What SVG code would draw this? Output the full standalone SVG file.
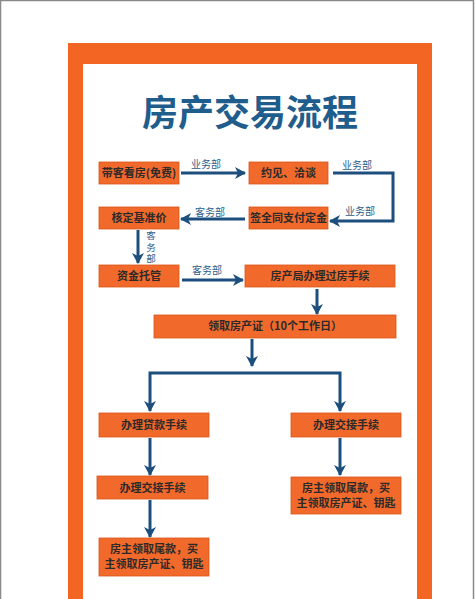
<svg xmlns="http://www.w3.org/2000/svg" width="475" height="599" viewBox="0 0 475 599">
<style>
.node rect{fill:#f1692b;stroke:#d9551a;stroke-width:0.8}
.node text{font-family:"Noto Sans CJK SC","Noto Sans",sans-serif;font-weight:bold;font-size:11px;fill:#2e2a2a;text-anchor:middle}
.conn path{fill:none;stroke:#1d4f7e;stroke-width:3;marker-end:url(#arr)}
.lbl{font-family:"Noto Sans CJK SC","Noto Sans",sans-serif;font-size:10px;fill:#2b5d8a;text-anchor:middle}
</style>
<defs>
<marker id="arr" markerUnits="userSpaceOnUse" markerWidth="14" markerHeight="14" refX="11" refY="7" orient="auto">
<path d="M1,1 L12,7 L1,13 L4,7 z" fill="#1d4f7e"/>
</marker>
</defs>
<rect x="0" y="0" width="475" height="599" fill="#ffffff"/>
<rect x="0.5" y="0.5" width="473" height="640" fill="none" stroke="#8a8a8a" stroke-width="1.5"/>
<rect x="68" y="43" width="364" height="600" fill="#f26522"/>
<rect x="83" y="64" width="334" height="600" fill="#ffffff"/>
<text x="250" y="126" font-family="Noto Sans CJK SC, sans-serif" font-weight="bold" font-size="36" fill="#1f5d8c" text-anchor="middle">房产交易流程</text>

<g class="conn">
<path d="M181,173 H245"/>
<path d="M333,173 H393 V221 H330"/>
<path d="M245,219 H181"/>
<path d="M138,230 V263"/>
<path d="M182,280 H243"/>
<path d="M317,289 V314"/>
<path d="M252,339 V366"/>
<path d="M252,373 H150 V411"/>
<path d="M252,373 H340 V411"/>
<path d="M150,438 V475"/>
<path d="M340,438 V475"/>
<path d="M150,500 V537"/>
</g>
<g id="labels">
<text class="lbl" x="206" y="168">业务部</text>
<text class="lbl" x="357" y="169">业务部</text>
<text class="lbl" x="360" y="215">业务部</text>
<text class="lbl" x="210" y="216" font-size="11">客务部</text>
<text class="lbl" x="207" y="274">客务部</text>
<text class="lbl" x="151" y="231" writing-mode="tb" style="text-anchor:start;font-size:9.5px;letter-spacing:2px">客务部</text>
</g>

<g id="n1" class="node"><rect x="99" y="162" width="80" height="22"/><text x="139" y="177">带客看房(免费)</text></g>
<g id="n2" class="node"><rect x="249" y="162" width="79" height="22"/><text x="288.5" y="177">约见、洽谈</text></g>
<g id="n3" class="node"><rect x="99" y="207" width="80" height="22"/><text x="139" y="222">核定基准价</text></g>
<g id="n4" class="node"><rect x="249" y="207" width="79" height="22"/><text x="288.5" y="222">签全同支付定金</text></g>
<g id="n5" class="node"><rect x="99" y="265" width="80" height="22"/><text x="139" y="280">资金托管</text></g>
<g id="n6" class="node"><rect x="245" y="265" width="150" height="22"/><text x="320" y="280">房产局办理过房手续</text></g>
<g id="n7" class="node"><rect x="154" y="315" width="242" height="23"/><text x="275" y="330">领取房产证（10个工作日）</text></g>
<g id="n8" class="node"><rect x="99" y="413" width="110" height="24"/><text x="154" y="429">办理贷款手续</text></g>
<g id="n9" class="node"><rect x="291" y="413" width="110" height="24"/><text x="346" y="429">办理交接手续</text></g>
<g id="n10" class="node"><rect x="97" y="476" width="111" height="23"/><text x="152.5" y="492">办理交接手续</text></g>
<g id="n11" class="node"><rect x="291" y="477" width="110" height="37"/><text x="346" y="492">房主领取尾款，买</text><text x="346" y="507">主领取房产证、钥匙</text></g>
<g id="n12" class="node"><rect x="99" y="538" width="110" height="38"/><text x="154" y="553">房主领取尾款，买</text><text x="154" y="568">主领取房产证、钥匙</text></g>
</svg>
